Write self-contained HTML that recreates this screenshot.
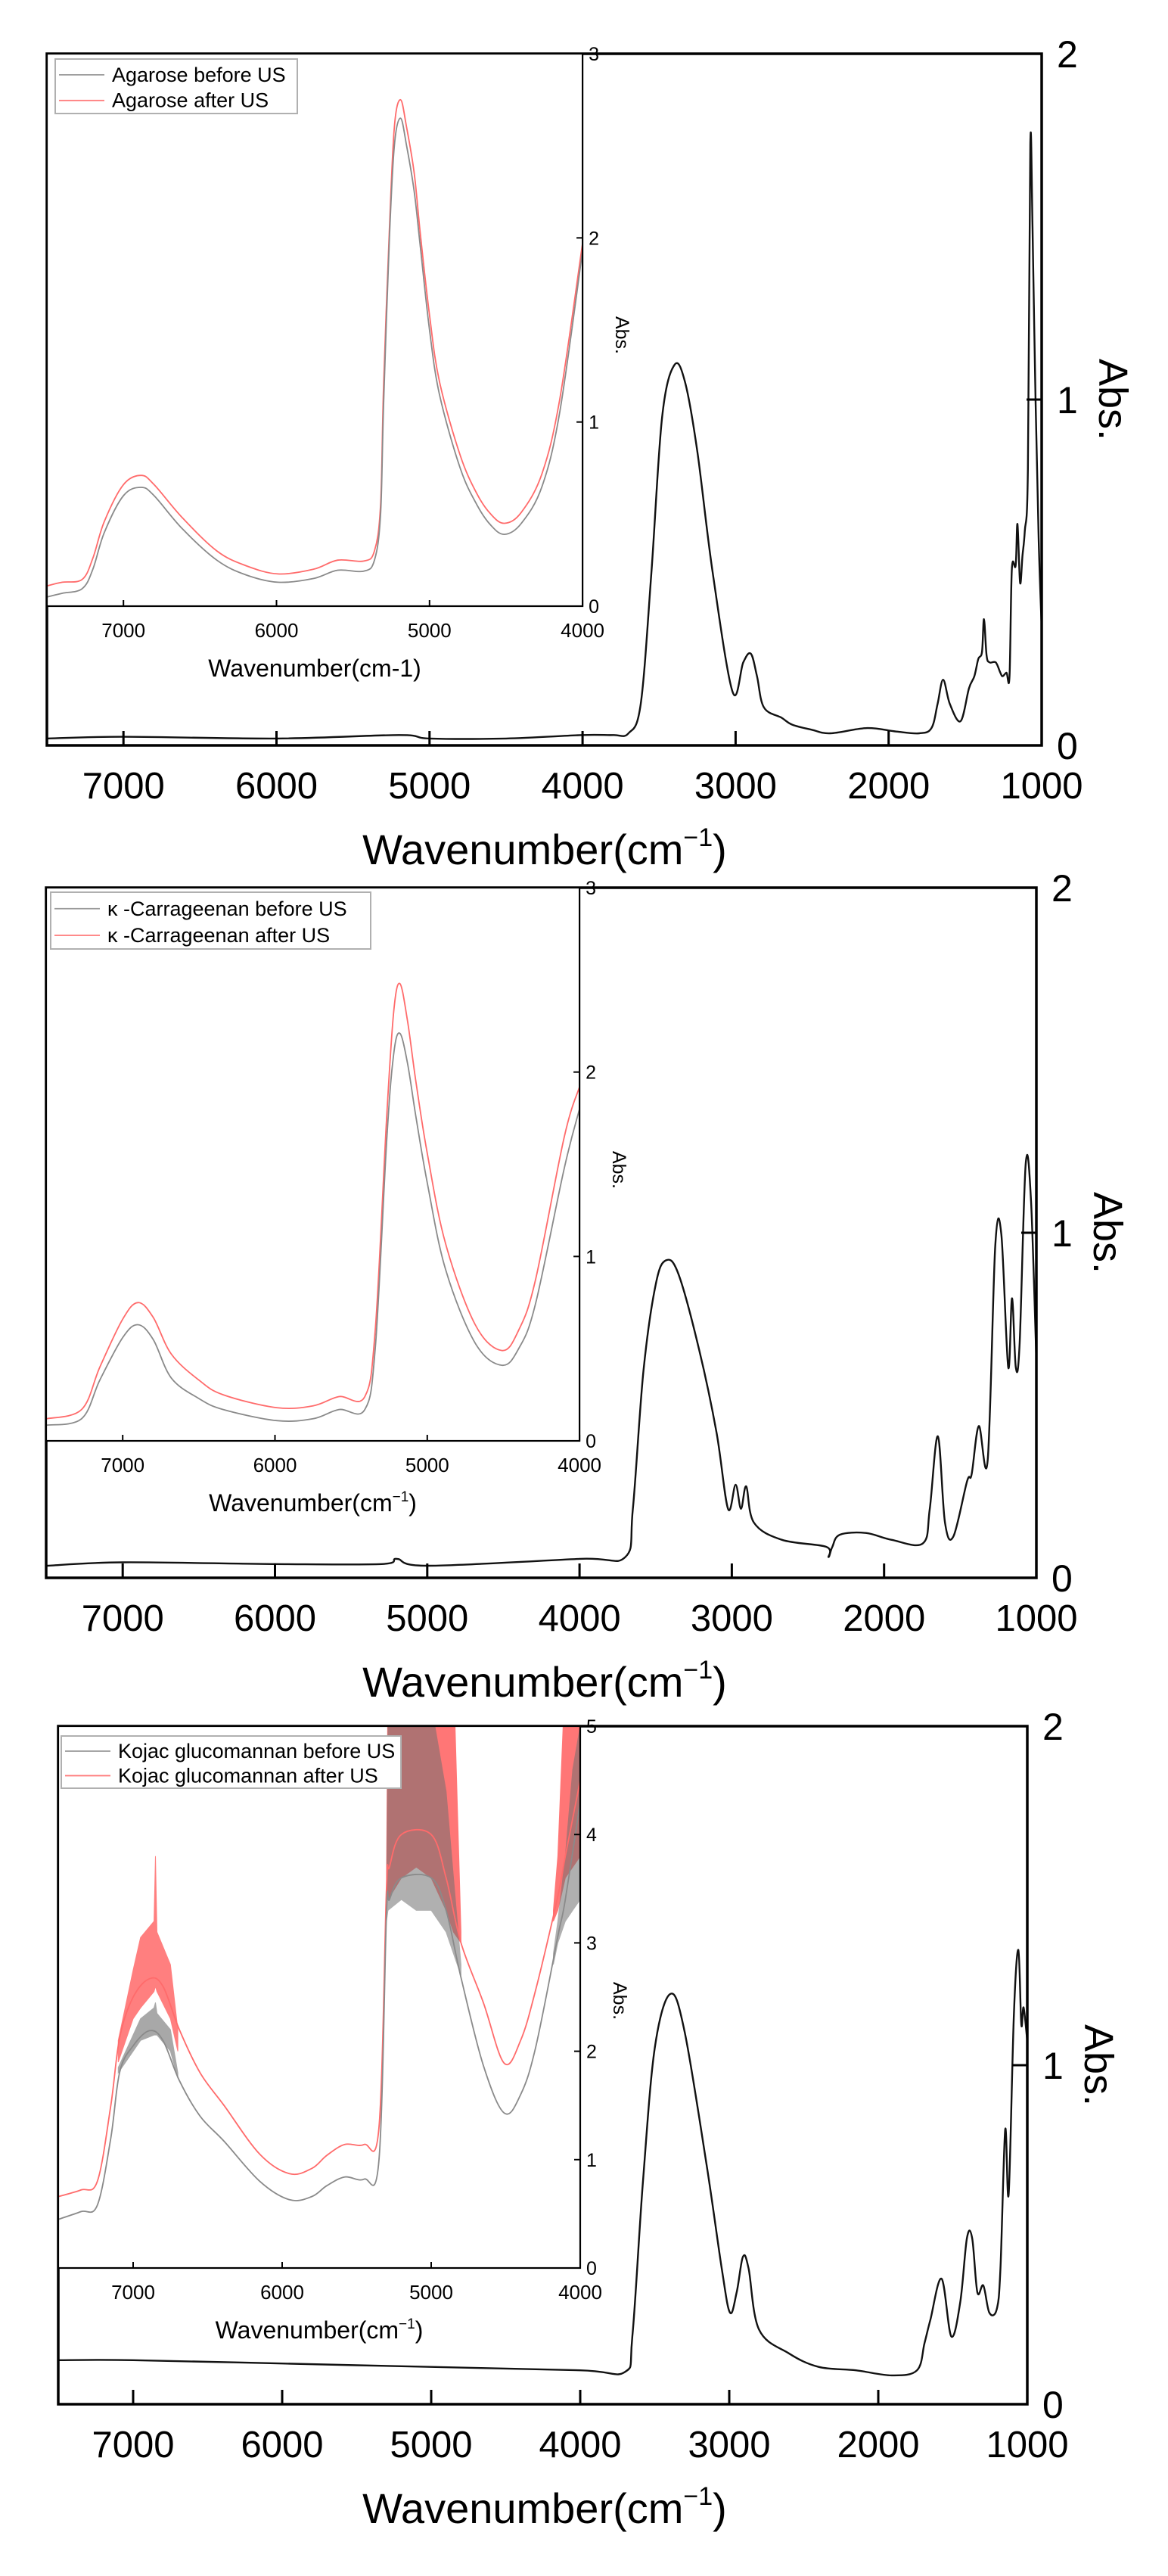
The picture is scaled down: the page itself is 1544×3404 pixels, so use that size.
<!DOCTYPE html>
<html><head><meta charset="utf-8"><style>
html,body{margin:0;padding:0;background:#fff;}
svg{display:block;font-family:"Liberation Sans","Noto Sans CJK JP",sans-serif;}
</style></head><body>
<svg id="fig" width="1544" height="3404" viewBox="0 0 1544 3404" xmlns="http://www.w3.org/2000/svg"></svg>
<script>
// ---------- shared tick labels ----------
const outerXTicks = [7000, 6000, 5000, 4000, 3000, 2000, 1000];
const outerYTicks = [0, 1, 2];
const insetXTicks = [7000, 6000, 5000, 4000];
const inset12YTicks = [0, 1, 2, 3];
const inset3YTicks = [0, 1, 2, 3, 4, 5];

// ---------- Panel 1 : Agarose ----------
const p1Wn  = [7500,7000,6000,5200,5000,4500,4000,3800,3700,3620,3550,3480,3400,3330,3250,3150,3020,2950,2900,2860,2815,2700,2630,2500,2380,2140,1950,1800,1720,1680,1644,1600,1530,1475,1440,1414,1390,1377,1360,1340,1300,1270,1255,1230,1210,1195,1170,1158,1141,1125,1110,1090,1074,1060,1040,1020,1000];
const p1Abs = [0.02,0.025,0.02,0.03,0.02,0.02,0.03,0.03,0.035,0.12,0.5,0.95,1.1,1.05,0.85,0.5,0.155,0.24,0.265,0.2,0.11,0.08,0.06,0.045,0.035,0.05,0.04,0.035,0.05,0.12,0.19,0.12,0.07,0.165,0.2,0.25,0.27,0.365,0.26,0.24,0.24,0.21,0.2,0.21,0.2,0.51,0.52,0.64,0.47,0.55,0.62,0.8,1.74,1.5,1.0,0.6,0.34];
const p1InWn     = [7500,7400,7270,7200,7125,7000,6885,6800,6615,6390,6200,5990,5760,5600,5430,5360,5320,5300,5262,5230,5190,5150,5100,5060,5000,4935,4800,4690,4600,4510,4400,4265,4150,4000];
const p1InBefore = [0.05,0.07,0.095,0.2,0.4,0.6,0.645,0.6,0.42,0.25,0.17,0.13,0.15,0.195,0.19,0.25,0.5,1.1,2.0,2.5,2.65,2.5,2.25,1.95,1.5,1.15,0.75,0.55,0.44,0.39,0.45,0.65,1.05,1.93];
const p1InAfter  = [0.11,0.13,0.145,0.26,0.46,0.66,0.71,0.66,0.48,0.3,0.22,0.175,0.2,0.25,0.245,0.3,0.55,1.2,2.05,2.6,2.75,2.6,2.35,2.02,1.58,1.22,0.82,0.61,0.5,0.45,0.51,0.72,1.12,1.97];

// ---------- Panel 2 : kappa-Carrageenan ----------
const p2Wn  = [7500,7000,6000,5300,5200,5000,4000,3700,3650,3580,3500,3433,3350,3214,3100,3025,2975,2940,2905,2855,2670,2380,2365,2340,2290,2120,1950,1745,1700,1647,1600,1545,1455,1425,1378,1320,1270,1230,1185,1160,1135,1110,1070,1035,1000];
const p2Abs = [0.035,0.045,0.04,0.04,0.055,0.035,0.055,0.06,0.2,0.6,0.85,0.92,0.88,0.66,0.42,0.2,0.27,0.2,0.265,0.16,0.11,0.09,0.06,0.09,0.125,0.13,0.11,0.1,0.2,0.41,0.16,0.12,0.28,0.3,0.44,0.34,0.96,0.995,0.61,0.81,0.61,0.68,1.2,1.09,0.63];
const p2InWn     = [7500,7270,7150,7000,6900,6800,6680,6500,6340,5990,5750,5580,5410,5340,5265,5220,5180,5130,5075,5000,4880,4685,4510,4400,4290,4100,4000];
const p2InBefore = [0.085,0.12,0.33,0.56,0.63,0.55,0.34,0.23,0.17,0.11,0.12,0.17,0.17,0.52,1.65,2.1,2.21,2.05,1.76,1.4,0.93,0.53,0.41,0.5,0.74,1.48,1.8];
const p2InAfter  = [0.12,0.17,0.4,0.66,0.75,0.67,0.47,0.33,0.25,0.18,0.19,0.24,0.24,0.62,1.78,2.33,2.48,2.28,1.95,1.56,1.07,0.63,0.49,0.6,0.87,1.65,1.92];

// ---------- Panel 3 : Konjac glucomannan ----------
const p3Wn  = [7500,7000,6000,5000,4000,3700,3650,3580,3500,3396,3300,3150,3050,2995,2950,2908,2870,2800,2600,2400,2150,1910,1740,1690,1650,1575,1510,1450,1405,1370,1335,1295,1255,1205,1180,1148,1125,1090,1060,1040,1025,1000];
const p3Abs = [0.13,0.13,0.12,0.11,0.1,0.095,0.2,0.65,1.05,1.21,1.1,0.7,0.4,0.27,0.33,0.435,0.4,0.22,0.15,0.11,0.1,0.085,0.1,0.18,0.25,0.37,0.2,0.3,0.49,0.49,0.33,0.35,0.27,0.28,0.4,0.81,0.62,1.15,1.34,1.12,1.17,1.07];
const p3InWn     = [7500,7350,7240,7150,7090,7000,6890,6800,6690,6550,6390,6150,5950,5800,5700,5580,5450,5350,5300,5280,5200,5000,4900,4800,4650,4510,4400,4300,4150,4100,4000];
const p3InBefore = [0.45,0.52,0.58,1.2,1.81,2.05,2.19,2.1,1.73,1.4,1.17,0.8,0.63,0.66,0.76,0.84,0.82,1.0,3.27,3.4,3.6,3.6,3.3,2.68,1.87,1.43,1.6,2.03,3.06,3.4,4.3];
const p3InAfter  = [0.66,0.72,0.8,1.5,2.13,2.5,2.67,2.6,2.2,1.8,1.5,1.05,0.87,0.92,1.04,1.14,1.14,1.3,3.5,3.7,4.0,4.0,3.6,3.0,2.45,1.89,2.1,2.56,3.43,3.8,4.5];
// noisy envelopes (lo / hi) of the saturated regions
const p3BandWn      = [5300,5290,5200,5100,5000,4900,4850,4800];
const p3BandGrayLo  = [3.2,3.3,3.4,3.3,3.3,3.1,2.9,2.7];
const p3BandGrayHi  = [3.3,5.0,5.5,5.5,5.2,4.4,3.6,2.8];
const p3BandRedLo   = [3.4,3.4,3.6,3.7,3.6,3.3,3.1,3.0];
const p3BandRedHi   = [3.6,5.5,5.5,5.5,5.5,5.5,5.5,3.1];
const p3Band2Wn     = [4180,4150,4100,4050,4000];
const p3Band2GrayLo = [2.8,3.0,3.2,3.3,3.4];
const p3Band2GrayHi = [2.9,3.2,3.8,4.6,5.0];
const p3Band2RedLo  = [3.2,3.3,3.6,3.7,3.8];
const p3Band2RedHi  = [3.3,3.8,5.5,5.5,5.5];
const p3Band3Wn     = [7100,7000,6950,6860,6850,6840,6750,6700];
const p3Band3RedLo  = [1.9,2.3,2.4,2.55,2.6,2.55,2.3,2.0];
const p3Band3RedHi  = [2.1,2.75,3.05,3.2,3.8,3.1,2.8,2.2];
const p3Band3GrayLo = [1.8,2.0,2.1,2.15,2.15,2.15,2.0,1.75];
const p3Band3GrayHi = [1.85,2.15,2.3,2.4,2.45,2.35,2.2,1.8];

// ---------- drawing ----------
const NS = "http://www.w3.org/2000/svg";
const svg = document.getElementById('fig');
function mk(tag, attrs, parent){
  const e = document.createElementNS(NS, tag);
  for (const k in attrs) e.setAttribute(k, attrs[k]);
  (parent||svg).appendChild(e);
  return e;
}
function smoothPath(pts){
  if (!pts.length) return '';
  let d = 'M' + pts[0][0].toFixed(1) + ',' + pts[0][1].toFixed(1);
  for (let i = 0; i < pts.length - 1; i++){
    const p0 = pts[i-1] || pts[i], p1 = pts[i], p2 = pts[i+1], p3 = pts[i+2] || p2;
    const t = 0.17;
    const c1x = p1[0] + (p2[0]-p0[0])*t, c1y = p1[1] + (p2[1]-p0[1])*t;
    const c2x = p2[0] - (p3[0]-p1[0])*t, c2y = p2[1] - (p3[1]-p1[1])*t;
    d += ' C' + c1x.toFixed(1)+','+c1y.toFixed(1)+' '+c2x.toFixed(1)+','+c2y.toFixed(1)+' '+p2[0].toFixed(1)+','+p2[1].toFixed(1);
  }
  return d;
}
function bandPath(wn, lo, hi, sx, sy){
  let d = '';
  wn.forEach((w,i)=>{ d += (i?'L':'M') + sx(w).toFixed(1) + ',' + sy(hi[i]).toFixed(1); });
  for (let i = wn.length-1; i >= 0; i--) d += 'L' + sx(wn[i]).toFixed(1) + ',' + sy(lo[i]).toFixed(1);
  return d + 'Z';
}

function panel(g){
  const grp = mk('g', {});
  
  
  const sx = w => g.right - (w - 1000) * g.k;
  const sy = a => g.bottom - a * (g.bottom - g.top) / 2;
  const isy = a => g.inBottom - a * (g.inBottom - g.top) / g.inMax;
  const inRight = sx(4000);

  // outer spectrum
  const op = mk('path', {d: smoothPath(g.wn.map((w,i)=>[sx(w), sy(g.abs[i])])), fill:'none', stroke:'#111', 'stroke-width':2.4, 'stroke-linejoin':'round'}, grp);
  
  

  // outer frame
  const fr = mk('rect', {x:g.left, y:g.top, width:g.right-g.left, height:g.bottom-g.top, fill:'none', stroke:'#000', 'stroke-width':3.5}, grp);
  
  

  outerXTicks.forEach(t=>{
    const x = sx(t);
    mk('line', {x1:x, x2:x, y1:g.bottom, y2:g.bottom-19, stroke:'#000', 'stroke-width':3}, grp);
    const tl = mk('text', {x:x, y:g.bottom+70, 'font-size':49, 'text-anchor':'middle', fill:'#000'}, grp);
    tl.textContent = t;
    
    
  });
  outerYTicks.forEach(t=>{
    const y = sy(t);
    if (t === 1) mk('line', {x1:g.right, x2:g.right-20, y1:y, y2:y, stroke:'#000', 'stroke-width':3}, grp);
    const yl = mk('text', {x:g.right+20, y:y+18, 'font-size':50, fill:'#000'}, grp);
    yl.textContent = t;
    
    
  });
  const xt = mk('text', {x:720, y:g.bottom+157, 'font-size':56, 'text-anchor':'middle', fill:'#000'}, grp);
  xt.innerHTML = 'Wavenumber(cm<tspan dy="-24" font-size="34">−1</tspan><tspan dy="24">)</tspan>';
  
  
  const yt = mk('text', {x:g.right+76, y:sy(1), 'font-size':54, 'text-anchor':'middle', transform:'rotate(90 '+(g.right+76)+' '+sy(1)+')', fill:'#000'}, grp);
  yt.textContent = 'Abs.';
  
  

  // inset
  const ig = mk('g', {}, grp);
  
  
  mk('rect', {x:g.left, y:g.top, width:inRight-g.left, height:g.inBottom-g.top, fill:'#fff'}, ig);
  const cid = 'clip-' + g.name;
  const cp = mk('clipPath', {id:cid}, ig);
  mk('rect', {x:g.left, y:g.top, width:inRight-g.left, height:g.inBottom-g.top}, cp);
  const plot = mk('g', {'clip-path':'url(#'+cid+')'}, ig);
  (g.bands||[]).forEach(b=>{
    const bp = mk('path', {d: bandPath(b.wn, b.lo, b.hi, sx, isy), fill:b.color, stroke:b.color, 'stroke-width':1, opacity:b.op}, plot);
    
    
  });
  const pa = mk('path', {d: smoothPath(g.inWn.map((w,i)=>[sx(w), isy(g.inAfter[i])])), fill:'none', stroke:'#ff6b6b', 'stroke-width':1.8}, plot);
  
  
  const pb = mk('path', {d: smoothPath(g.inWn.map((w,i)=>[sx(w), isy(g.inBefore[i])])), fill:'none', stroke:'#8a8a8a', 'stroke-width':1.8}, plot);
  
  
  mk('rect', {x:g.left, y:g.top, width:inRight-g.left, height:g.inBottom-g.top, fill:'none', stroke:'#000', 'stroke-width':2.2}, ig);
  insetXTicks.forEach(t=>{
    const x = sx(t);
    mk('line', {x1:x, x2:x, y1:g.inBottom, y2:g.inBottom-8, stroke:'#000', 'stroke-width':2}, ig);
    const l = mk('text', {x:x, y:g.inBottom+41, 'font-size':26, 'text-anchor':'middle', fill:'#000'}, ig);
    l.textContent = t;
    
    
  });
  g.inTicks.forEach(t=>{
    const y = isy(t);
    mk('line', {x1:inRight, x2:inRight-8, y1:y, y2:y, stroke:'#000', 'stroke-width':2}, ig);
    const l = mk('text', {x:inRight+8, y:y+9, 'font-size':25, fill:'#000'}, ig);
    l.textContent = t;
    
    
  });
  const ia = mk('text', {x:inRight+44, y:g.inAbsY, 'font-size':25, 'text-anchor':'middle', transform:'rotate(90 '+(inRight+44)+' '+g.inAbsY+')', fill:'#000'}, ig);
  ia.textContent = 'Abs.';
  
  
  const it = mk('text', {x:(g.left+inRight)/2+ (g.inTitleDx||0), y:g.inBottom+93, 'font-size':32, 'text-anchor':'middle', fill:'#000'}, ig);
  it.innerHTML = g.supTitle ? 'Wavenumber(cm<tspan dy="-13" font-size="19">−1</tspan><tspan dy="13">)</tspan>' : 'Wavenumber(cm-1)';
  
  

  // legend
  const L = g.legend;
  const lg = mk('g', {}, ig);
  
  
  mk('rect', {x:L.x, y:L.y, width:L.w, height:L.h, fill:'#fff', stroke:'#b0b0b0', 'stroke-width':2}, lg);
  [[L.labels[0], '#9a9a9a'], [L.labels[1], '#ff7a7a']].forEach((e,i)=>{
    const ry = L.y + L.h*(0.29 + 0.47*i);
    mk('line', {x1:L.x+5, x2:L.x+65, y1:ry, y2:ry, stroke:e[1], 'stroke-width':1.8}, lg);
    const tx = mk('text', {x:L.x+75, y:ry+9, 'font-size':L.fs, fill:'#000'}, lg);
    tx.textContent = e[0];
    
    
  });
}

panel({name:'agarose-panel', left:62, right:1377, top:71, bottom:985, k:0.2023, inBottom:801, inMax:3, inTicks:inset12YTicks, inAbsY:443,
  wn:p1Wn, abs:p1Abs, inWn:p1InWn, inBefore:p1InBefore, inAfter:p1InAfter, supTitle:false, inTitleDx:0,
  legend:{x:73, y:78, w:320, h:72, fs:27, labels:['Agarose before US','Agarose after US']}});

panel({name:'carrageenan-panel', left:61, right:1370, top:1173, bottom:2085, k:0.2013, inBottom:1904, inMax:3, inTicks:inset12YTicks, inAbsY:1546,
  wn:p2Wn, abs:p2Abs, inWn:p2InWn, inBefore:p2InBefore, inAfter:p2InAfter, supTitle:true, inTitleDx:0,
  legend:{x:67, y:1179, w:423, h:75, fs:27, labels:['κ -Carrageenan before US','κ -Carrageenan after US']}});

panel({name:'glucomannan-panel', left:77, right:1358, top:2281, bottom:3177, k:0.1970, inBottom:2997, inMax:5, inTicks:inset3YTicks, inAbsY:2644,
  wn:p3Wn, abs:p3Abs, inWn:p3InWn, inBefore:p3InBefore, inAfter:p3InAfter, supTitle:true, inTitleDx:0,
  bands:[
    {wn:p3BandWn, lo:p3BandRedLo, hi:p3BandRedHi, color:'#ff5555', op:0.8},
    {wn:p3Band2Wn, lo:p3Band2RedLo, hi:p3Band2RedHi, color:'#ff5555', op:0.8},
    {wn:p3Band3Wn, lo:p3Band3RedLo, hi:p3Band3RedHi, color:'#ff5555', op:0.75},
    {wn:p3BandWn, lo:p3BandGrayLo, hi:p3BandGrayHi, color:'#707070', op:0.55},
    {wn:p3Band2Wn, lo:p3Band2GrayLo, hi:p3Band2GrayHi, color:'#707070', op:0.55},
    {wn:p3Band3Wn, lo:p3Band3GrayLo, hi:p3Band3GrayHi, color:'#707070', op:0.6}
  ],
  legend:{x:81, y:2294, w:449, h:69, fs:27, labels:['Kojac glucomannan before US','Kojac glucomannan after US']}});
</script>
</body></html>
